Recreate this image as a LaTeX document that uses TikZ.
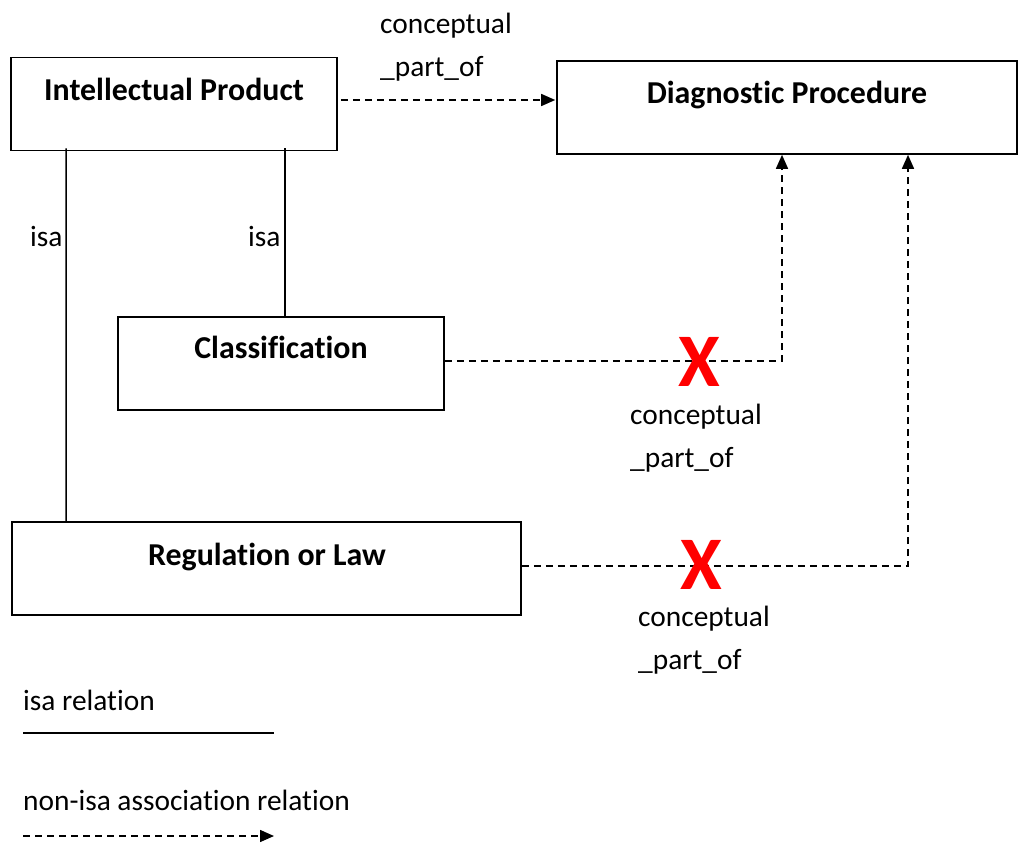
\documentclass[tikz,border=0pt]{standalone}
\usepackage{fontspec}
\setmainfont{Carlito}[Ligatures=NoCommon]
\usetikzlibrary{arrows.meta,calc}
\begin{document}
\begin{tikzpicture}[x=1bp,y=-1bp,
  box/.style={draw,line width=1.6bp,inner sep=0,minimum width=#1,minimum height=93bp},
  title/.style={anchor=base,inner sep=0,font=\fontsize{32}{38}\selectfont\bfseries},
  lbl/.style={anchor=base west,inner sep=0,align=left,font=\fontsize{29.5}{43}\selectfont},
  isaline/.style={line width=1.6bp},
  assoc/.style={line width=1.5bp,dash pattern=on 7bp off 5bp,-{Triangle[length=14bp,width=12bp]}},
  cross/.style={inner sep=0,text=red,font=\fontsize{76}{76}\selectfont\bfseries}]
  \path[use as bounding box,fill=white] (0,0) rectangle (1018,843);

  % concept boxes
  \node[box=326bp] (ip)  at (174,104)   {};
  \node[box=460bp] (dp)  at (787,107.5) {};
  \node[box=326bp] (cls) at (281,363.5) {};
  \node[box=509bp] (reg) at (266.5,568.5) {};

  % box titles, set in the upper part of each box
  \node[title] (ipT)  at (174,100) {Intellectual Product};
  \node[title] (dpT)  at (787,103) {Diagnostic Procedure};
  \node[title] (clsT) at (281,358) {Classification};
  \node[title] (regT) at (267,565) {Regulation or Law};

  % isa relations
  \draw[isaline] ($(reg.north west)+(55,0)$) -- ($(ip.south west)+(56,-3)$);
  \draw[isaline] ($(cls.north)+(4,0)$) -- ($(cls.north |- ip.south)+(4,-3)$);
  \node[lbl] (isa1) at (30,246) {isa};
  \node[lbl] (isa2) at (248,246) {isa};

  % conceptual part-of relations (label anchored at its last baseline)
  \draw[assoc] ($(ip.east)+(3,-4)$) -- ($(dp.west)+(-1,-7.5)$);
  \node[lbl] (cp1) at (380,76) {conceptual\\\_part\_of};

  \draw[assoc] ($(cls.east)+(0,-2.5)$) -| ($(dp.south)+(-5,0)$);
  \node[cross] (x1) at (699,362) {X};
  \node[lbl] (cp2) at (630,467) {conceptual\\\_part\_of};

  \draw[assoc] ($(reg.east)+(0,-2.5)$) -| ($(dp.south)+(121,0)$);
  \node[cross] (x2) at (701,565) {X};
  \node[lbl] (cp3) at (638,669) {conceptual\\\_part\_of};

  % legend
  \node[lbl] (legIsa) at (23,710) {isa relation};
  \coordinate (li1) at (23,733);
  \coordinate (li2) at (274,733);
  \draw[isaline] (li1) -- (li2);
  \node[lbl] (legAssoc) at (23,810) {non-isa association relation};
  \coordinate (la1) at (23,836);
  \coordinate (la2) at (274,836);
  \draw[assoc] (la1) -- (la2);
\end{tikzpicture}
\end{document}
